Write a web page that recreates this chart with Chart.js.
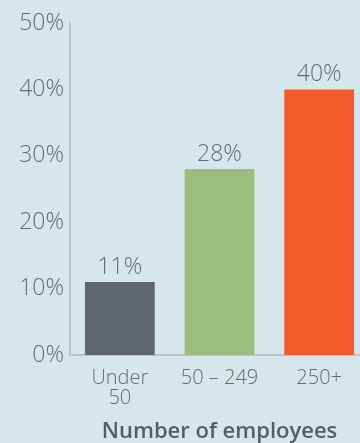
<!DOCTYPE html>
<html>
<head>
<meta charset="utf-8">
<script src="https://cdn.jsdelivr.net/npm/chart.js@4"></script>
<style>
  html, body { margin: 0; padding: 0; background: #d5e7ec; overflow: hidden; }
  #wrap { width: 369px; height: 443px; }
</style>
</head>
<body>
<div id="wrap"><canvas id="chart"></canvas></div>
<script>
const categories = [['Under', '50'], '50 \u2013 249', '250+'];
const shares = [11, 28, 40];
const barColors = ['#5f666d', '#9bbd7f', '#f15a2b'];
const axisTitle = 'Number of employees';

const textColor = '#5d6e76';
const fontFamily = "'Open Sans', sans-serif";

// draw the % value above each bar
const valueLabels = {
    id: 'valueLabels',
    afterDatasetsDraw(chart) {
        let ctx = chart.ctx;
        let meta = chart.getDatasetMeta(0);
        ctx.save();
        ctx.font = '300 23px ' + fontFamily;
        ctx.fillStyle = textColor;
        ctx.textAlign = 'center';
        ctx.textBaseline = 'bottom';
        meta.data.forEach((bar, i) => {
            ctx.fillText(shares[i] + '%', bar.x, bar.y - 3);
        });
        ctx.restore();
    }
};

const config = {
    type: 'bar',
    data: {
        labels: categories,
        datasets: [{
            data: shares,
            backgroundColor: barColors,
            categoryPercentage: 1,
            barPercentage: 0.7
        }]
    },
    options: {
        responsive: true,
        maintainAspectRatio: false,
        animation: false,
        layout: { padding: { top: 23, right: 0, bottom: 0, left: 0 } },
        plugins: {
            legend: { display: false },
            tooltip: { enabled: false }
        },
        scales: {
            y: {
                min: 0,
                max: 50,
                ticks: {
                    stepSize: 10,
                    padding: 6,
                    color: textColor,
                    font: { family: fontFamily, size: 23, weight: '300' },
                    callback: v => v + '%'
                },
                grid: { display: false, drawTicks: false },
                border: { color: '#bcc3c5', width: 2 },
                afterFit: s => { s.width = 70; }
            },
            x: {
                ticks: {
                    padding: 13,
                    color: textColor,
                    maxRotation: 0,
                    font: { family: fontFamily, size: 20, weight: '300', lineHeight: 1.0 }
                },
                grid: { display: false, drawTicks: false },
                border: { color: '#bcc3c5', width: 2 },
                title: {
                    display: true,
                    text: axisTitle,
                    color: '#4f6068',
                    font: { family: fontFamily, size: 22, weight: '600', lineHeight: 1.0 },
                    padding: { top: 14, bottom: 0 }
                },
                afterFit: s => { s.height = 88; }
            }
        }
    },
    plugins: [valueLabels]
};

const myChart = new Chart(document.getElementById('chart'), config);
</script>
</body>
</html>
